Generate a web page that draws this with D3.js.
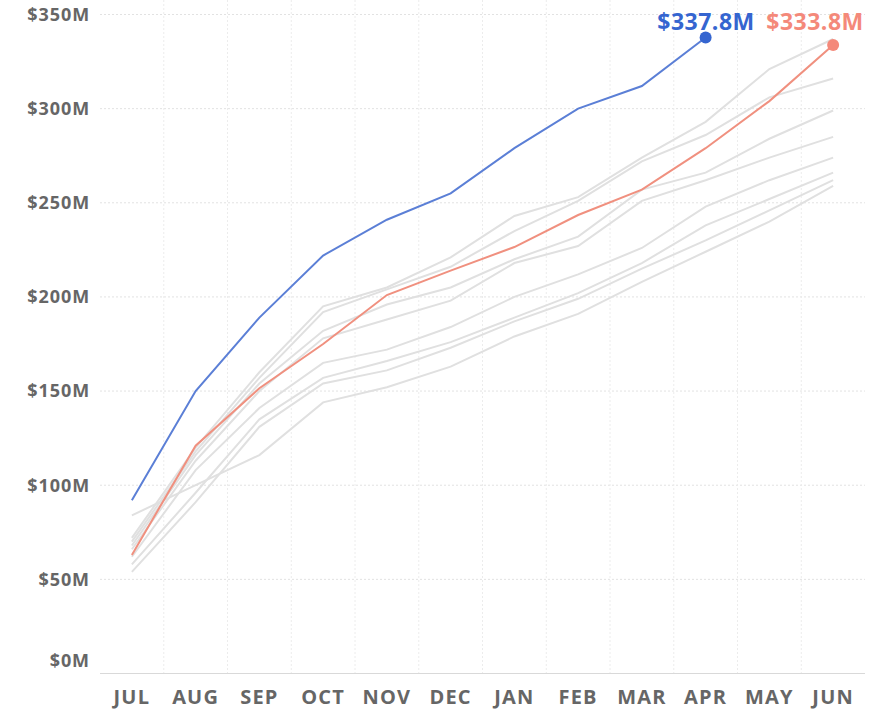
<!DOCTYPE html>
<html>
<head>
<meta charset="utf-8">
<script src="https://cdn.jsdelivr.net/npm/d3@7"></script>
<style>
  body { margin: 0; background: #fff; }
  svg { display: block; font-family: "Open Sans", sans-serif; }
</style>
</head>
<body>
<svg id="chart" width="894" height="711"></svg>
<script>
// Months of the fiscal year
const months = ['JUL', 'AUG', 'SEP', 'OCT', 'NOV', 'DEC', 'JAN', 'FEB', 'MAR', 'APR', 'MAY', 'JUN'];

// Cumulative revenue, $M
const currentYear = [92, 150, 189, 222, 241, 255, 279, 300, 312, 337.8];
const lastYear = [63, 121, 151.5, 175, 201, 214, 226.5, 243.5, 257, 279, 304, 333.8];

// Earlier years, drawn in gray
const pastYears = [
  [72, 120, 160, 195, 205, 221, 243, 253, 274, 293, 321, 337],
  [70, 118, 157, 192, 204, 216, 235, 251, 272, 286, 306, 316],
  [68, 116, 154, 182, 196, 205, 220, 232, 257, 266, 284, 299],
  [66, 113, 150, 178, 188, 198, 218, 227, 251, 262, 274, 285],
  [62, 108, 141, 165, 172, 184, 200, 212, 226, 248, 262, 274],
  [58, 96, 135, 157, 166, 176, 189, 202, 218, 238, 252, 266],
  [54, 91, 131, 154, 161, 173, 187, 199, 215, 230, 246, 262],
  [84, 100, 116, 144, 152, 163, 179, 191, 208, 224, 240, 259]
];

const yTicks = [0, 50, 100, 150, 200, 250, 300, 350];

const svg = d3.select('#chart');

// Plot area
const plot = {left: 100, right: 865, top: 14.5, bottom: 673.5};

const x = d3.scaleBand().domain(months).range([plot.left, plot.right]);
const y = d3.scaleLinear().domain([0, 350]).range([plot.bottom, plot.top]);

const cx = (m) => x(m) + x.bandwidth() / 2;

// Horizontal gridlines
svg.append('g')
  .selectAll('line')
  .data(yTicks.filter((d) => d > 0))
  .join('line')
  .attr('x1', plot.left)
  .attr('x2', plot.right)
  .attr('y1', (d) => y(d))
  .attr('y2', (d) => y(d))
  .attr('stroke', '#e2e2e2')
  .attr('stroke-width', 1)
  .attr('stroke-dasharray', '2,2');

// Vertical gridlines between months
svg.append('g')
  .selectAll('line')
  .data(months.slice(1))
  .join('line')
  .attr('x1', (d) => x(d))
  .attr('x2', (d) => x(d))
  .attr('y1', 0)
  .attr('y2', plot.bottom)
  .attr('stroke', '#ececec')
  .attr('stroke-width', 1)
  .attr('stroke-dasharray', '2,2');

// Baseline
svg.append('line')
  .attr('x1', plot.left)
  .attr('x2', plot.right)
  .attr('y1', plot.bottom)
  .attr('y2', plot.bottom)
  .attr('stroke', '#d9d9d9')
  .attr('stroke-width', 1);

// Y labels
svg.append('g')
  .selectAll('text')
  .data(yTicks)
  .join('text')
  .attr('x', 90)
  .attr('y', (d) => d === 0 ? y(d) - 13 : y(d))
  .attr('dy', '0.35em')
  .attr('text-anchor', 'end')
  .attr('fill', '#666')
  .attr('font-size', 18)
  .attr('font-weight', 700)
  .attr('letter-spacing', 0.9)
  .text((d) => '$' + d + 'M');

// X labels
svg.append('g')
  .selectAll('text')
  .data(months)
  .join('text')
  .attr('x', (d) => cx(d))
  .attr('y', 697)
  .attr('dy', '0.35em')
  .attr('text-anchor', 'middle')
  .attr('fill', '#666')
  .attr('font-size', 20)
  .attr('font-weight', 700)
  .attr('letter-spacing', 1.2)
  .text((d) => d);

const line = d3.line()
  .x((d, i) => cx(months[i]))
  .y((d) => y(d));

// Gray history lines
svg.append('g')
  .selectAll('path')
  .data(pastYears)
  .join('path')
  .attr('d', (d) => line(d))
  .attr('fill', 'none')
  .attr('stroke', '#e0e0e0')
  .attr('stroke-width', 2);

// Last year and current year
const highlighted = [
  {values: lastYear, line: '#f0907f', dot: '#f4897a', labelX: 815},
  {values: currentYear, line: '#5b7fd6', dot: '#3565d0', labelX: 706}
];

for (let s of highlighted) {
  const last = s.values.length - 1;
  const endX = cx(months[last]);
  const endY = y(s.values[last]);
  svg.append('path')
    .attr('d', line(s.values))
    .attr('fill', 'none')
    .attr('stroke', s.line)
    .attr('stroke-width', 2);
  svg.append('circle')
    .attr('cx', endX)
    .attr('cy', endY)
    .attr('r', 6)
    .attr('fill', s.dot);
  svg.append('text')
    .attr('x', s.labelX)
    .attr('y', 22)
    .attr('dy', '0.35em')
    .attr('text-anchor', 'middle')
    .attr('fill', s.dot)
    .attr('font-size', 23)
    .attr('font-weight', 700)
    .attr('letter-spacing', 0.5)
    .text('$' + s.values[last].toFixed(1) + 'M');
}
</script>
</body>
</html>
